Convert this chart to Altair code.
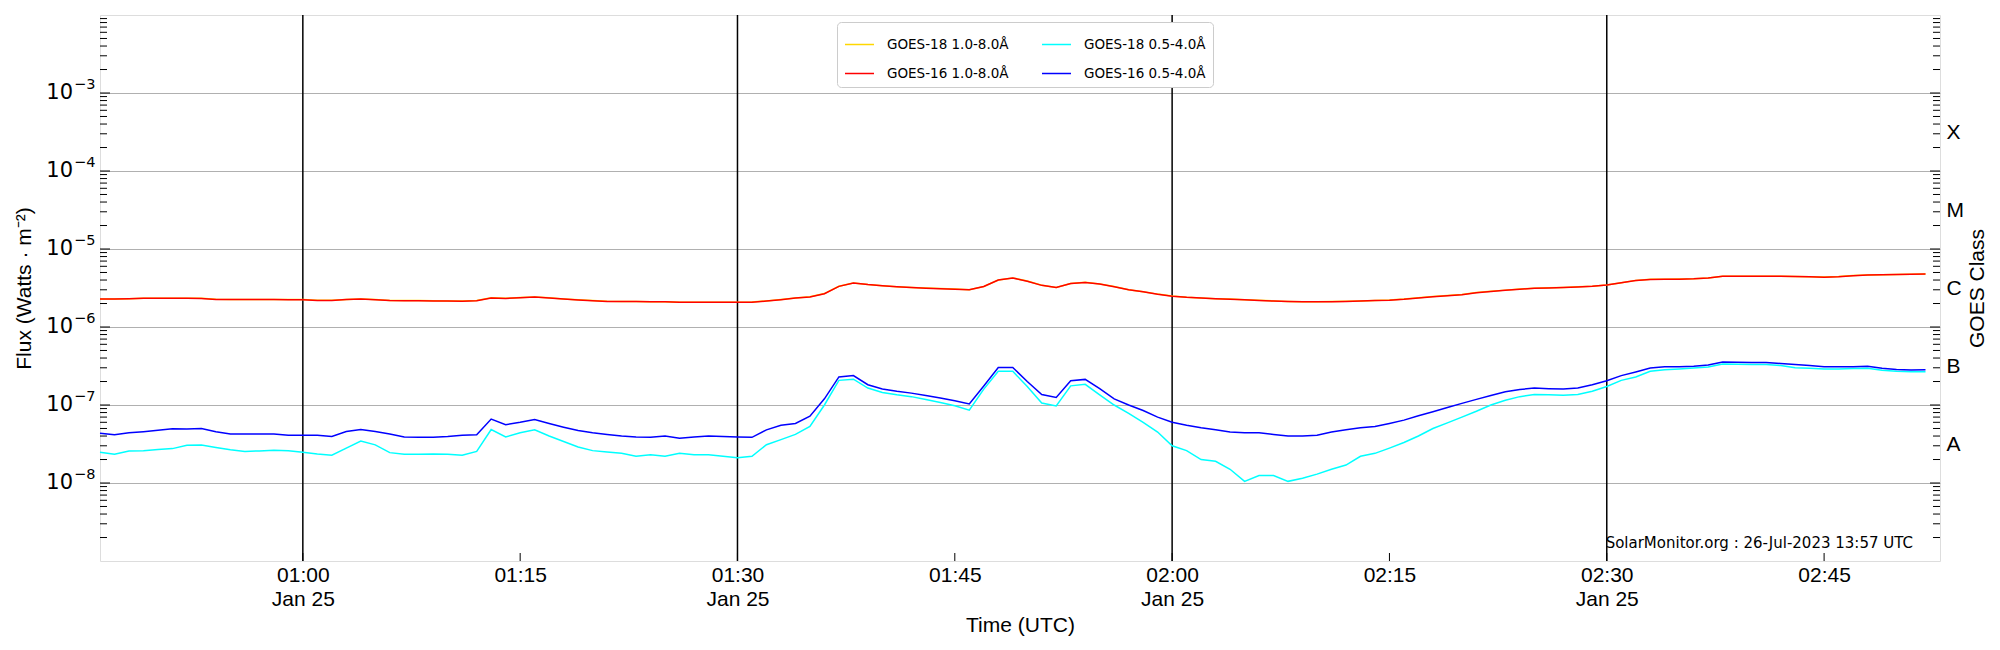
import altair as alt
import pandas as pd

# ---------------- data (1-minute cadence starting 2023-01-25 00:46 UTC) ----------------
START = "2023-01-25T00:46:00Z"

# GOES-16 1.0-8.0 A, in units of 1e-6 W m^-2
goes16_long = [
    2.28, 2.28, 2.30, 2.33, 2.33, 2.33, 2.33, 2.32, 2.26, 2.25,   # 00:46-00:55
    2.25, 2.25, 2.25, 2.24, 2.24, 2.19, 2.19, 2.25, 2.28, 2.24,   # 00:56-01:05
    2.18, 2.17, 2.17, 2.16, 2.15, 2.14, 2.17, 2.36, 2.32, 2.38,   # 01:06-01:15
    2.42, 2.36, 2.28, 2.22, 2.17, 2.13, 2.12, 2.12, 2.10, 2.10,   # 01:16-01:25
    2.07, 2.07, 2.07, 2.07, 2.07, 2.08, 2.15, 2.24, 2.35, 2.43,   # 01:26-01:35
    2.67, 3.32, 3.66, 3.50, 3.38, 3.28, 3.20, 3.15, 3.10, 3.05,   # 01:36-01:45
    3.00, 3.30, 4.00, 4.25, 3.87, 3.42, 3.20, 3.60, 3.73, 3.55,   # 01:46-01:55
    3.29, 3.00, 2.83, 2.63, 2.48, 2.40, 2.35, 2.30, 2.27, 2.23,   # 01:56-02:05
    2.19, 2.15, 2.12, 2.10, 2.10, 2.11, 2.13, 2.15, 2.18, 2.21,   # 02:06-02:15
    2.27, 2.36, 2.45, 2.52, 2.60, 2.75, 2.86, 2.96, 3.05, 3.13,   # 02:16-02:25
    3.17, 3.20, 3.26, 3.33, 3.45, 3.68, 3.95, 4.07, 4.08, 4.10,   # 02:26-02:35
    4.15, 4.25, 4.46, 4.46, 4.46, 4.46, 4.46, 4.44, 4.40, 4.35,   # 02:36-02:45
    4.42, 4.55, 4.64, 4.66, 4.70, 4.75, 4.77,                     # 02:46-02:52
]

# GOES-18 1.0-8.0 A (lies under the GOES-16 curve), units of 1e-6 W m^-2
goes18_long = [
    2.29, 2.29, 2.31, 2.34, 2.34, 2.34, 2.34, 2.33, 2.27, 2.26,
    2.26, 2.26, 2.26, 2.25, 2.25, 2.20, 2.20, 2.26, 2.29, 2.25,
    2.19, 2.18, 2.18, 2.17, 2.16, 2.15, 2.18, 2.37, 2.33, 2.39,
    2.43, 2.37, 2.29, 2.23, 2.18, 2.14, 2.13, 2.13, 2.11, 2.11,
    2.08, 2.08, 2.08, 2.08, 2.08, 2.09, 2.16, 2.25, 2.36, 2.44,
    2.68, 3.33, 3.67, 3.51, 3.39, 3.29, 3.21, 3.16, 3.11, 3.06,
    3.01, 3.31, 4.01, 4.26, 3.88, 3.43, 3.21, 3.61, 3.74, 3.56,
    3.30, 3.01, 2.84, 2.64, 2.49, 2.41, 2.36, 2.31, 2.28, 2.24,
    2.20, 2.16, 2.13, 2.11, 2.11, 2.12, 2.14, 2.16, 2.19, 2.22,
    2.28, 2.37, 2.46, 2.53, 2.61, 2.76, 2.87, 2.97, 3.06, 3.14,
    3.18, 3.21, 3.27, 3.34, 3.46, 3.69, 3.96, 4.08, 4.09, 4.11,
    4.16, 4.26, 4.47, 4.47, 4.47, 4.47, 4.47, 4.45, 4.41, 4.36,
    4.43, 4.56, 4.65, 4.67, 4.71, 4.76, 4.78,
]

# GOES-16 0.5-4.0 A, units of 1e-8 W m^-2
goes16_short = [
    4.35, 4.15, 4.40, 4.55, 4.75, 4.95, 4.92, 5.00, 4.55, 4.25,
    4.25, 4.25, 4.25, 4.10, 4.10, 4.10, 3.94, 4.56, 4.85, 4.56,
    4.25, 3.89, 3.87, 3.85, 3.94, 4.10, 4.14, 6.60, 5.60, 6.00,
    6.50, 5.80, 5.20, 4.70, 4.40, 4.20, 4.00, 3.90, 3.85, 4.00,
    3.75, 3.90, 4.00, 3.95, 3.90, 3.85, 4.80, 5.50, 5.80, 7.20,
    12.0, 22.9, 23.8, 18.2, 16.0, 15.0, 14.2, 13.2, 12.3, 11.3,
    10.3, 17.5, 30.3, 30.3, 20.0, 13.6, 12.5, 20.5, 21.3, 16.2,
    12.0, 10.0, 8.5, 7.0, 6.0, 5.5, 5.1, 4.8, 4.5, 4.4,
    4.4, 4.2, 4.0, 4.0, 4.1, 4.5, 4.8, 5.1, 5.3, 5.8,
    6.4, 7.3, 8.2, 9.3, 10.5, 11.8, 13.2, 14.8, 15.8, 16.5,
    16.2, 16.0, 16.5, 18.2, 20.5, 23.8, 26.5, 29.8, 31.0, 31.0,
    31.5, 32.6, 35.6, 35.2, 35.0, 35.0, 34.0, 33.0, 32.0, 31.0,
    31.0, 31.0, 31.3, 29.5, 28.6, 28.0, 28.3,
]

# GOES-18 0.5-4.0 A, units of 1e-8 W m^-2
goes18_short = [
    2.48, 2.33, 2.57, 2.60, 2.68, 2.76, 3.05, 3.08, 2.86, 2.67,
    2.54, 2.58, 2.63, 2.60, 2.48, 2.36, 2.27, 2.80, 3.44, 3.08,
    2.45, 2.33, 2.34, 2.36, 2.33, 2.27, 2.54, 4.85, 3.90, 4.40,
    4.80, 4.00, 3.40, 2.90, 2.60, 2.50, 2.40, 2.20, 2.30, 2.20,
    2.40, 2.30, 2.30, 2.20, 2.10, 2.20, 3.10, 3.60, 4.20, 5.30,
    10.0, 20.7, 21.4, 16.5, 14.5, 13.5, 12.8, 11.8, 10.8, 9.8,
    8.6, 16.0, 27.0, 27.0, 17.3, 10.6, 9.7, 17.6, 18.4, 13.5,
    10.0, 7.8, 6.0, 4.5, 3.0, 2.6, 2.0, 1.9, 1.5, 1.05,
    1.25, 1.25, 1.05, 1.15, 1.3, 1.5, 1.7, 2.2, 2.4, 2.8,
    3.3, 4.0, 5.0, 5.9, 7.0, 8.3, 10.0, 11.5, 12.8, 13.6,
    13.5, 13.3, 13.6, 15.0, 17.3, 20.7, 22.9, 27.0, 28.4, 29.0,
    29.8, 30.7, 33.6, 33.3, 33.0, 33.0, 32.0, 30.0, 29.5, 29.0,
    29.0, 29.3, 29.5, 27.8, 27.0, 26.6, 26.6,
]

# legend order (column-major in the legend box)
series_names = ["GOES-18 1.0-8.0Å", "GOES-16 1.0-8.0Å", "GOES-18 0.5-4.0Å", "GOES-16 0.5-4.0Å"]
series_colors = ["#ffd700", "#ff0000", "#00ffff", "#0000ff"]

major_times = ["2023-01-25T01:00:00Z", "2023-01-25T01:30:00Z",
               "2023-01-25T02:00:00Z", "2023-01-25T02:30:00Z"]
tick_times = ["2023-01-25T01:00:00Z", "2023-01-25T01:15:00Z", "2023-01-25T01:30:00Z",
              "2023-01-25T01:45:00Z", "2023-01-25T02:00:00Z", "2023-01-25T02:15:00Z",
              "2023-01-25T02:30:00Z", "2023-01-25T02:45:00Z"]
decades = [1e-8, 1e-7, 1e-6, 1e-5, 1e-4, 1e-3]
decade_exponents = ["−8", "−7", "−6", "−5", "−4", "−3"]
class_positions = [10 ** -3.5, 10 ** -4.5, 10 ** -5.5, 10 ** -6.5, 10 ** -7.5]
footer = "SolarMonitor.org : 26-Jul-2023 13:57 UTC"

# ---------------- tables ----------------
t0 = pd.Timestamp(START)
n = len(goes16_long)
times = [(t0 + pd.Timedelta(minutes=i)).strftime("%Y-%m-%dT%H:%M:%SZ") for i in range(n)]

rows = []
for name, vals, unit in [
    ("GOES-18 1.0-8.0Å", goes18_long, 1e-6),
    ("GOES-16 1.0-8.0Å", goes16_long, 1e-6),
    ("GOES-18 0.5-4.0Å", goes18_short, 1e-8),
    ("GOES-16 0.5-4.0Å", goes16_short, 1e-8),
]:
    for t, v in zip(times, vals):
        rows.append({"time": t, "flux": v * unit, "series": name})
df = pd.DataFrame(rows)

minor_vals = []
for e in range(-9, -2):
    for k in range(2, 10):
        minor_vals.append(k * 10.0 ** e)

df_major = pd.DataFrame({"v": decades, "base": ["10"] * len(decades), "exp": decade_exponents})
df_minor = pd.DataFrame({"v": minor_vals})
df_vl = pd.DataFrame({"t": major_times})
df_xt = pd.DataFrame({"t": tick_times})
df_txt = pd.DataFrame({"label": [footer]})

# ---------------- chart ----------------
W, H = 1840, 546
FONT = "DejaVu Sans"
FS = 21


def dt(h, m):
    return alt.DateTime(year=2023, month=1, date=25, hours=h, minutes=m, utc=True)


xscale = alt.Scale(type="utc", domain=[dt(0, 46), dt(2, 53)], nice=False)
yscale = alt.Scale(type="log", domain=[1e-9, 1e-2], nice=False)

x_axis = alt.Axis(
    values=[dt(1, 0), dt(1, 15), dt(1, 30), dt(1, 45), dt(2, 0), dt(2, 15), dt(2, 30), dt(2, 45)],
    labelExpr="(utcFormat(datum.value,'%M')=='00' || utcFormat(datum.value,'%M')=='30') ? "
              "[utcFormat(datum.value,'%H:%M'), 'Jan 25'] : utcFormat(datum.value,'%H:%M')",
    ticks=False, domain=False, grid=False, labelFlush=False, labelOverlap=False,
    labelFontSize=FS, labelPadding=3, labelLineHeight=24, labelColor="black",
    title="Time (UTC)", titleFontSize=FS, titleFontWeight="normal", titlePadding=5,
    titleColor="black",
)

left_axis = alt.Axis(
    orient="left", values=decades, labels=False,
    ticks=False, domain=False, grid=True, gridColor="#b0b0b0", gridWidth=1.2,
    title="Flux (Watts · m⁻²)", titleFontSize=FS, titleFontWeight="normal", titlePadding=66,
    titleColor="black",
)

right_axis = alt.Axis(
    orient="right", values=class_positions,
    labelExpr="datum.value > 1e-4 ? 'X' : datum.value > 1e-5 ? 'M' : datum.value > 1e-6 ? 'C' : "
              "datum.value > 1e-7 ? 'B' : 'A'",
    ticks=False, domain=False, grid=False, labelFontSize=FS, labelPadding=6,
    labelOverlap=False, labelFlush=False, labelColor="black",
    title="GOES Class", titleFontSize=FS, titleFontWeight="normal", titlePadding=3,
    titleAngle=270, titleBaseline="top", titleColor="black",
)

legend = alt.Legend(
    title=None, orient="none", legendX=737, legendY=7, columns=2,
    symbolType="M-1,0L1,0", symbolSize=841, symbolStrokeWidth=1.5,
    labelFontSize=13.5, labelFont=FONT, labelColor="black", labelOffset=12,
    columnPadding=30, rowPadding=7, padding=7,
    fillColor="white", strokeColor="#cccccc", cornerRadius=4,
)
color = alt.Color("series:N", scale=alt.Scale(domain=series_names, range=series_colors), legend=legend)

vlines = alt.Chart(df_vl).mark_rule(color="black", strokeWidth=1.5).encode(
    x=alt.X("t:T", scale=xscale, axis=x_axis)
)

line_layers = []
for i, name in enumerate(["GOES-18 1.0-8.0Å", "GOES-16 1.0-8.0Å", "GOES-18 0.5-4.0Å", "GOES-16 0.5-4.0Å"]):
    line_layers.append(
        alt.Chart(df).transform_filter(alt.datum.series == name).mark_line(strokeWidth=1.5).encode(
            x=alt.X("time:T", scale=xscale, axis=None),
            y=alt.Y("flux:Q", scale=yscale, axis=left_axis if i == 0 else None),
            color=color,
        )
    )

lt_major = alt.Chart(df_major).mark_rule(color="black", strokeWidth=1).encode(
    y=alt.Y("v:Q", scale=yscale, axis=None), x=alt.value(0), x2=alt.value(10))
lt_minor = alt.Chart(df_minor).mark_rule(color="black", strokeWidth=1).encode(
    y=alt.Y("v:Q", scale=yscale, axis=None), x=alt.value(0), x2=alt.value(7))
rt_major = alt.Chart(df_major).mark_rule(color="black", strokeWidth=1).encode(
    y=alt.Y("v:Q", scale=yscale, axis=right_axis), x=alt.value(W), x2=alt.value(W - 10))
rt_minor = alt.Chart(df_minor).mark_rule(color="black", strokeWidth=1).encode(
    y=alt.Y("v:Q", scale=yscale, axis=None), x=alt.value(W), x2=alt.value(W - 7))
xt = alt.Chart(df_xt).mark_rule(color="black", strokeWidth=1).encode(
    x=alt.X("t:T", scale=xscale, axis=None), y=alt.value(H), y2=alt.value(H - 8))

# y tick labels "10" with superscript exponent
ylab_base = alt.Chart(df_major).mark_text(align="right", baseline="middle", fontSize=FS, font=FONT,
                                          color="black").encode(
    y=alt.Y("v:Q", scale=yscale, axis=None), x=alt.value(-27), text="base:N")
ylab_exp = alt.Chart(df_major).mark_text(align="left", baseline="middle", fontSize=14.5, font=FONT,
                                         color="black", dy=-8).encode(
    y=alt.Y("v:Q", scale=yscale, axis=None), x=alt.value(-26), text="exp:N")

txt = alt.Chart(df_txt).mark_text(align="right", baseline="middle", fontSize=15, font=FONT,
                                  color="black").encode(
    x=alt.value(1813), y=alt.value(528), text="label:N")

chart = alt.layer(
    vlines, *line_layers, lt_major, lt_minor, rt_major, rt_minor, xt, ylab_base, ylab_exp, txt
).resolve_axis(
    x="independent", y="independent"
).properties(
    width=W, height=H,
    autosize=alt.AutoSizeParams(type="none"),
    padding={"left": 92, "top": 7, "right": 50, "bottom": 80},
).configure_view(
    stroke="black", strokeWidth=1.5
).configure_axis(
    labelFont=FONT, titleFont=FONT
).configure(background="white")

chart.save("out.html", embed_options={"renderer": "svg", "actions": False})
